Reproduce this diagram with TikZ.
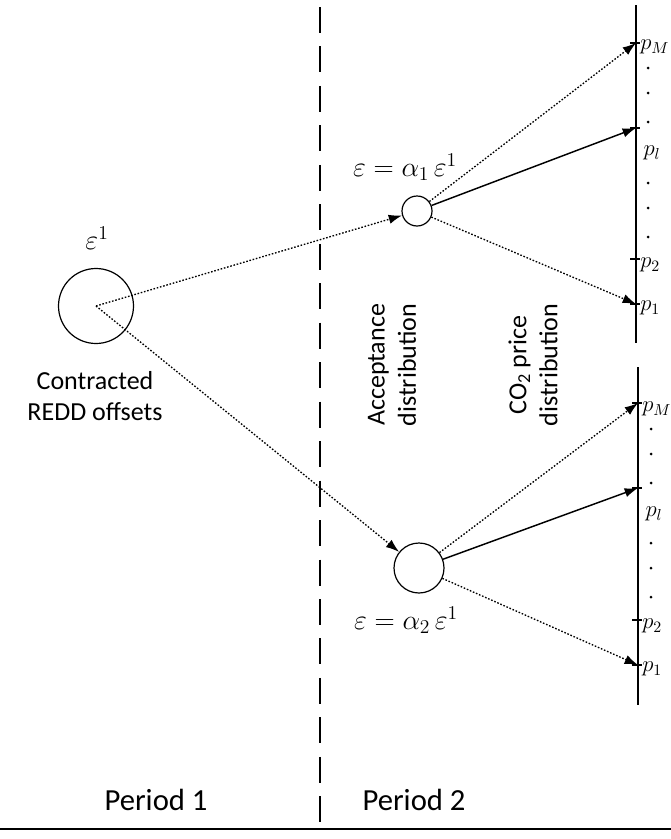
\RequirePackage{fix-cm}
\documentclass[tikz,border=0pt]{standalone}
\usepackage{fontspec}
\setmainfont{Carlito}
\usetikzlibrary{arrows.meta}
\begin{document}
\begin{tikzpicture}[x=0.75pt,y=-0.75pt,
  circ/.style={draw,circle,line width=0.9pt,inner sep=0pt},
  dotl/.style={line width=1pt,dash pattern=on 1.2pt off 1.3pt},
  arr/.style={-{Latex[length=10pt,width=7pt]}},
  axisline/.style={line width=1.1pt},
  tickline/.style={line width=0.8pt},
  lbl/.style={font=\fontsize{19.5}{23.3}\selectfont, align=center, inner sep=0pt},
  per/.style={font=\fontsize{23}{27}\selectfont, inner sep=0pt},
  mth/.style={font=\fontsize{21}{25}\selectfont, inner sep=0pt},
  plab/.style={font=\fontsize{17}{20}\selectfont, inner sep=0pt}
]
\useasboundingbox (0,0) rectangle (671,839);

% circles
\node[circ,minimum size=56.25pt] (L) at (96,306) {};
\node[circ,minimum size=22.5pt] (A) at (417,211) {};
\node[circ,minimum size=37.5pt] (B) at (419,568) {};

% period separator and base line
\coordinate (d0) at (320,7);
\coordinate (d1) at (320,823);
\draw[line width=1.5pt, dash pattern=on 19.5pt off 10.1pt] (d0) -- (d1);
\coordinate (b0) at (0,829);
\coordinate (b1) at (671,829);
\draw[line width=1.5pt] (b0) -- (b1);

% top axis
\coordinate (ta) at (636,5);
\coordinate (tb) at (636,343);
\draw[axisline] (ta) -- (tb);
\coordinate (tM) at (636,43);
\coordinate (tl) at (636,128);
\coordinate (t2) at (636,259);
\coordinate (t1) at (636,304);
\foreach \c in {tM,tl,t2,t1} \draw[tickline] (\c) ++(-6,0) -- ++(10,0);

% bottom axis
\coordinate (ba) at (638,367);
\coordinate (bb) at (638,705);
\draw[axisline] (ba) -- (bb);
\coordinate (bM) at (638,403);
\coordinate (bl) at (638,488);
\coordinate (b2) at (638,620);
\coordinate (b1p) at (638,665);
\foreach \c in {bM,bl,b2,b1p} \draw[tickline] (\c) ++(-6,0) -- ++(10,0);

% connectors
\draw[dotl,arr] (L.center) -- (A);
\draw[dotl,arr] (L.center) -- (B);
\draw[dotl,arr] (A) -- (tM);
\draw[line width=1.1pt,arr] (A) -- (tl);
\draw[dotl,arr] (A) -- (t1);
\draw[dotl,arr] (B) -- (bM);
\draw[line width=1.1pt,arr] (B) -- (bl);
\draw[dotl,arr] (B) -- (b1p);

% price labels top
\node[plab,anchor=west] (lM) at (640,47) {$p_M$};
\node[plab] (ll) at (652,153) {$p_l$};
\node[plab,anchor=west] (l2) at (640,265) {$p_2$};
\node[plab,anchor=west] (l1) at (640,308) {$p_1$};
% price labels bottom
\node[plab,anchor=west] (mM) at (642,409) {$p_M$};
\node[plab] (ml) at (654,514) {$p_l$};
\node[plab,anchor=west] (m2) at (642,626) {$p_2$};
\node[plab,anchor=west] (m1) at (642,669) {$p_1$};

% dots
\foreach \yy in {68,93,122,183,208,237} \fill (648,\yy) circle (1.5);
\foreach \yy in {429,454,483,543,568,597} \fill (651,\yy) circle (1.5);

% texts
\node[mth] (e1) at (97,238) {$\varepsilon^1$};
\node[lbl] (crd) at (95,396) {Contracted\\REDD offsets};
\node[lbl,rotate=90] (acc) at (392,365) {Acceptance\\distribution};
\node[lbl,rotate=90] (co2) at (533,365) {CO\textsubscript{2} price\\distribution};
\node[mth] (ea1) at (405,167) {$\varepsilon = \alpha_1\,\varepsilon^1$};
\node[mth] (ea2) at (406,620) {$\varepsilon = \alpha_2\,\varepsilon^1$};
\node[per] (per1) at (156,800) {Period 1};
\node[per] (per2) at (414,800) {Period 2};
\end{tikzpicture}
\end{document}
